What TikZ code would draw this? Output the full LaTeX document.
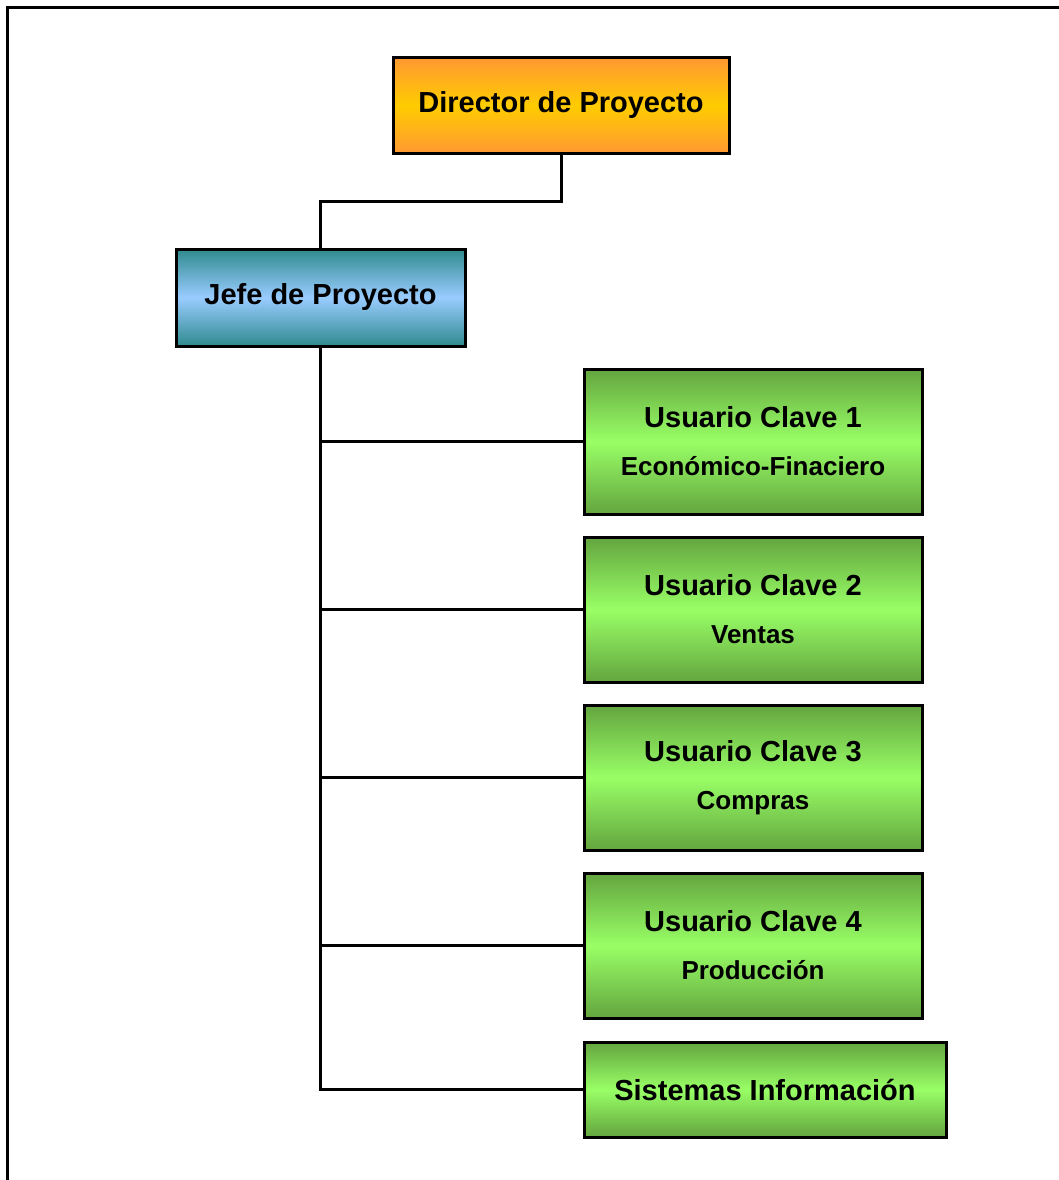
\documentclass[tikz,border=0pt]{standalone}
\usepackage{fontspec}
\setmainfont{Liberation Sans}
\usetikzlibrary{positioning}
\definecolor{orTop}{HTML}{FF9933}
\definecolor{orMid}{HTML}{FFCC00}
\definecolor{blTop}{HTML}{2F8A8E}
\definecolor{blMid}{HTML}{99CCFF}
\definecolor{grTop}{HTML}{63A53F}
\definecolor{grMid}{HTML}{99FF66}
\begin{document}
\begin{tikzpicture}[x=1pt,y=-1pt,
  box/.style={draw=black,line width=3pt,rectangle,inner sep=0pt,align=center,font=\bfseries\fontsize{29}{34}\selectfont},
  orbox/.style={box,top color=orTop,bottom color=orTop,middle color=orMid},
  blbox/.style={box,top color=blTop,bottom color=blTop,middle color=blMid},
  grbox/.style={box,top color=grTop,bottom color=grTop,middle color=grMid},
  conn/.style={line width=3pt,line cap=rect}]
\useasboundingbox (0,0) rectangle (1059,1180);
\draw[line width=3pt] (7,1190) -- (7,8) -- (1070,8);
\node[orbox,minimum width=336pt,minimum height=95pt] (dir) at (561,105.5) {Director de Proyecto};
\node[blbox,minimum width=289pt,minimum height=97pt] (jefe) at (320.5,297.5) {Jefe de Proyecto};
\node[grbox,minimum width=338pt,minimum height=145pt] (u1) at (753,441.5) {Usuario Clave 1\\[14pt]{\fontsize{26}{30}\selectfont Económico-Finaciero}};
\node[grbox,minimum width=338pt,minimum height=145pt] (u2) at (753,609.5) {Usuario Clave 2\\[14pt]{\fontsize{26}{30}\selectfont Ventas}};
\node[grbox,minimum width=338pt,minimum height=145pt] (u3) at (753,777.5) {Usuario Clave 3\\[14pt]{\fontsize{26}{30}\selectfont Compras}};
\node[grbox,minimum width=338pt,minimum height=145pt] (u4) at (753,945.5) {Usuario Clave 4\\[14pt]{\fontsize{26}{30}\selectfont Producción}};
\node[grbox,minimum width=362pt,minimum height=95pt] (si) at (765,1089.5) {Sistemas Información};
\coordinate (elbow1) at (561,201);
\coordinate (elbow2) at (320.5,201);
\coordinate (trunkEnd) at (320.5,1089.5);
\draw[conn] (dir.south) -- (elbow1) -- (elbow2) -- (jefe.north);
\draw[conn] (jefe.south) -- (trunkEnd) -- (si.west);
\foreach \n in {u1,u2,u3,u4}{
  \draw[conn] (jefe.south |- \n.west) -- (\n.west);
}
\end{tikzpicture}
\end{document}
